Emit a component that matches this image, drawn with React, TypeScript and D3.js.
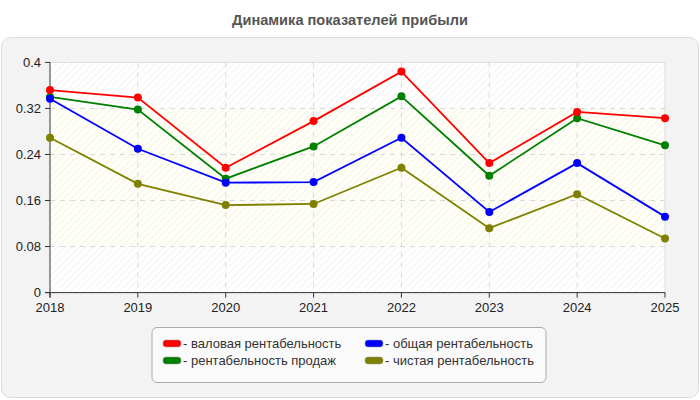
import React from 'react';
import * as d3 from 'd3';

const years = ['2018', '2019', '2020', '2021', '2022', '2023', '2024', '2025'];
const grossMargin = [0.352, 0.339, 0.217, 0.298, 0.384, 0.225, 0.314, 0.303];
const totalMargin = [0.337, 0.25, 0.191, 0.192, 0.269, 0.14, 0.225, 0.132];
const salesMargin = [0.34, 0.318, 0.198, 0.254, 0.341, 0.203, 0.303, 0.256];
const netMargin = [0.269, 0.189, 0.152, 0.154, 0.217, 0.112, 0.171, 0.094];
const yTicks = [0, 0.08, 0.16, 0.24, 0.32, 0.4];

const series = [
  { name: 'валовая рентабельность', color: '#ff0000', values: grossMargin },
  { name: 'общая рентабельность', color: '#0000ff', values: totalMargin },
  { name: 'рентабельность продаж', color: '#008000', values: salesMargin },
  { name: 'чистая рентабельность', color: '#808000', values: netMargin },
];

const W = 700;
const H = 400;
const left = 50;
const right = 665;
const top = 62.4;
const bottom = 292.6;

export default function App() {
  const x = d3.scalePoint<string>().domain(years).range([left, right]);
  const y = d3.scaleLinear().domain([0, 0.4]).range([bottom, top]);
  const line = d3
    .line<number>()
    .x((_, i) => x(years[i]) as number)
    .y((d) => y(d));

  return (
    <svg
      width={W}
      height={H}
      style={{ position: 'absolute', left: 0, top: 0, fontFamily: '"Liberation Sans", Arial, sans-serif' }}
    >
      <defs>
        <pattern id="hatch" width="5" height="5" patternUnits="userSpaceOnUse" patternTransform="rotate(45)">
          <line x1="0" y1="0" x2="0" y2="5" stroke="#efefef" strokeWidth="1.5" />
        </pattern>
      </defs>
      <rect x={0} y={0} width={W} height={H} fill="#fff" />
      <text x={W / 2} y={25} textAnchor="middle" fontSize={14.6} fontWeight="bold" fill="#555">
        Динамика показателей прибыли
      </text>
      <rect x={1.5} y={37.5} width={697} height={360} rx={9} fill="#f3f3f3" stroke="#dcdcdc" />

      {/* plot area */}
      <rect x={left} y={top} width={right - left} height={bottom - top} fill="#ffffff" />
      <rect x={left} y={y(0.32)} width={right - left} height={y(0.08) - y(0.32)} fill="#fffff5" />
      <rect x={left} y={top} width={right - left} height={bottom - top} fill="url(#hatch)" />
      <line x1={left} x2={right} y1={top} y2={top} stroke="#dddddd" />
      <line x1={right} x2={right} y1={top} y2={bottom} stroke="#dddddd" />

      {/* grid */}
      {yTicks.slice(1, -1).map((t) => (
        <line key={'gy' + t} x1={left} x2={right} y1={y(t)} y2={y(t)} stroke="#d8d8d8" strokeDasharray="5,5" />
      ))}
      {years.slice(1, -1).map((yr) => (
        <line key={'gx' + yr} x1={x(yr)} x2={x(yr)} y1={top} y2={bottom} stroke="#d8d8d8" strokeDasharray="5,5" />
      ))}

      {/* axes */}
      <line x1={left} x2={left} y1={top} y2={bottom + 5} stroke="#333" />
      <line x1={left - 5} x2={right} y1={bottom} y2={bottom} stroke="#333" />
      {yTicks.map((t) => (
        <g key={'ty' + t}>
          <line x1={left - 5} x2={left} y1={y(t)} y2={y(t)} stroke="#333" />
          <text x={left - 9} y={y(t) + 4.5} textAnchor="end" fontSize={13} fill="#222">
            {String(t)}
          </text>
        </g>
      ))}
      {years.map((yr) => (
        <g key={'tx' + yr}>
          <line x1={x(yr)} x2={x(yr)} y1={bottom} y2={bottom + 5} stroke="#333" />
          <text x={x(yr)} y={bottom + 19} textAnchor="middle" fontSize={13} fill="#222">
            {yr}
          </text>
        </g>
      ))}

      {/* series */}
      {[...series].reverse().map((s) => (
        <g key={s.name}>
          <path d={line(s.values) || ''} fill="none" stroke={s.color} strokeWidth={1.8} />
          {s.values.map((v, i) => (
            <circle key={i} cx={x(years[i])} cy={y(v)} r={4} fill={s.color} />
          ))}
        </g>
      ))}

      {/* legend */}
      <rect x={152} y={327.5} width={394} height={55} rx={5} fill="#fafafa" stroke="#aaaaaa" />
      {series.map((s, i) => {
        const col = i % 2;
        const row = Math.floor(i / 2);
        const lx = col === 0 ? 163 : 365;
        const ly = 343.5 + row * 17;
        return (
          <g key={'lg' + s.name}>
            <rect x={lx} y={ly - 3.5} width={18} height={7} rx={3} fill={s.color} stroke="#999" strokeWidth={0.5} />
            <text x={lx + 20} y={ly + 4.5} fontSize={13} fill="#333">
              {'- ' + s.name}
            </text>
          </g>
        );
      })}
    </svg>
  );
}
